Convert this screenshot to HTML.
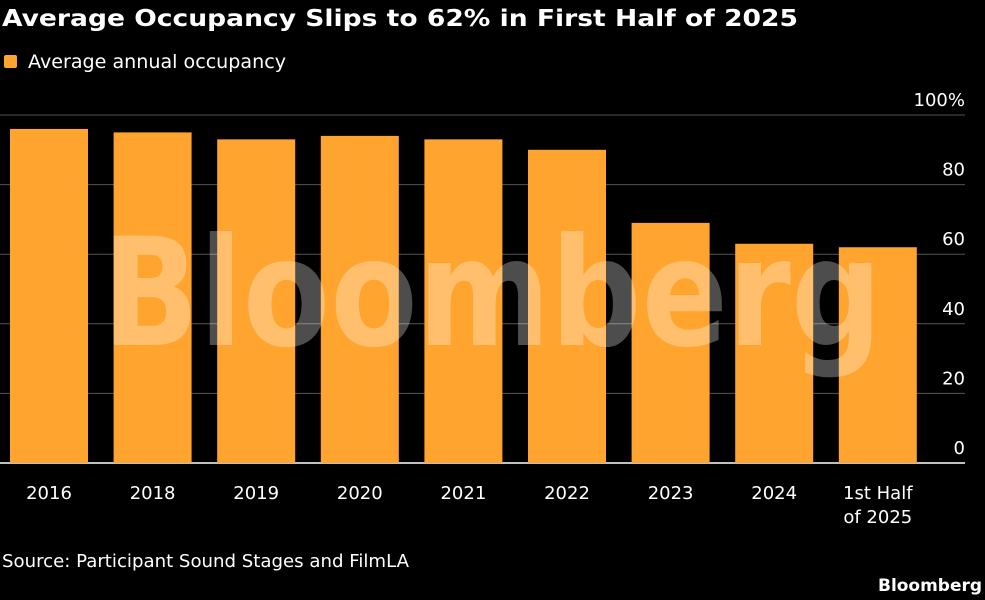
<!DOCTYPE html>
<html><head><meta charset="utf-8"><style>
html,body{margin:0;padding:0;background:#000;width:985px;height:600px;overflow:hidden}
svg text{font-family:"DejaVu Sans","Liberation Sans",sans-serif}
</style></head><body>
<svg id="chart" width="985" height="600" xmlns="http://www.w3.org/2000/svg">
<rect width="985" height="600" fill="#000"/>
<text x="2" y="26" font-size="23" font-weight="bold" fill="#fff" textLength="796" lengthAdjust="spacingAndGlyphs">Average Occupancy Slips to 62% in First Half of 2025</text>
<rect x="4" y="55" width="13" height="13" rx="2" fill="#ffa42f"/>
<text x="28" y="68" font-size="19" fill="#fff" textLength="258" lengthAdjust="spacingAndGlyphs">Average annual occupancy</text>
<g id="grid"></g>
<g id="bars"></g>
<g id="xlabels"></g>
<text x="492" y="345" font-size="150" font-weight="bold" fill="#fff" fill-opacity="0.3" text-anchor="middle" textLength="780" lengthAdjust="spacingAndGlyphs" font-family="Liberation Sans, sans-serif">Bloomberg</text>
<text x="2" y="567" font-size="18" fill="#fff" textLength="407" lengthAdjust="spacingAndGlyphs">Source: Participant Sound Stages and FilmLA</text>
<text x="982" y="591" font-size="17" font-weight="bold" fill="#fff" text-anchor="end" textLength="104" lengthAdjust="spacingAndGlyphs">Bloomberg</text>
</svg>
<script>
const categories=["2016","2018","2019","2020","2021","2022","2023","2024","1st Half|of 2025"];
const values=[96,95,93,94,93,90,69,63,62];
const ticks=[0,20,40,60,80,100];
const tickLabels=["0","20","40","60","80","100%"];
const NS="http://www.w3.org/2000/svg";
const y0=463,y100=115,plotL=0,step=103.6,bw=78,firstX=10;
const yS=v=>y0-(y0-y100)*v/100;
const xS=i=>firstX+i*step;
function mk(t,a,p){const e=document.createElementNS(NS,t);for(const k in a)e.setAttribute(k,a[k]);p.appendChild(e);return e;}
const grid=document.getElementById('grid'),bars=document.getElementById('bars'),xl=document.getElementById('xlabels');
ticks.forEach((t,i)=>{
 const l=mk('line',{x1:0,x2:965,y1:yS(t),y2:yS(t),stroke:t===0?'#fff':'#555','stroke-width':t===0?1.5:1},grid);
 
 
 const tx=mk('text',{x:965,y:yS(t)-9,'font-size':18,fill:'#fff','text-anchor':'end'},grid);
 tx.textContent=tickLabels[i];
 
 
});
values.forEach((v,i)=>{
 const r=mk('rect',{x:xS(i),y:yS(v),width:bw,height:y0-yS(v),fill:'#ffa42f'},bars);
 
 
 const lines=categories[i].split('|');
 lines.forEach((s,j)=>{
  const t=mk('text',{x:xS(i)+bw/2,y:499+j*24,'font-size':18,fill:'#fff','text-anchor':'middle'},xl);
  t.textContent=s;
  
  
 });
});
</script>
</body></html>
